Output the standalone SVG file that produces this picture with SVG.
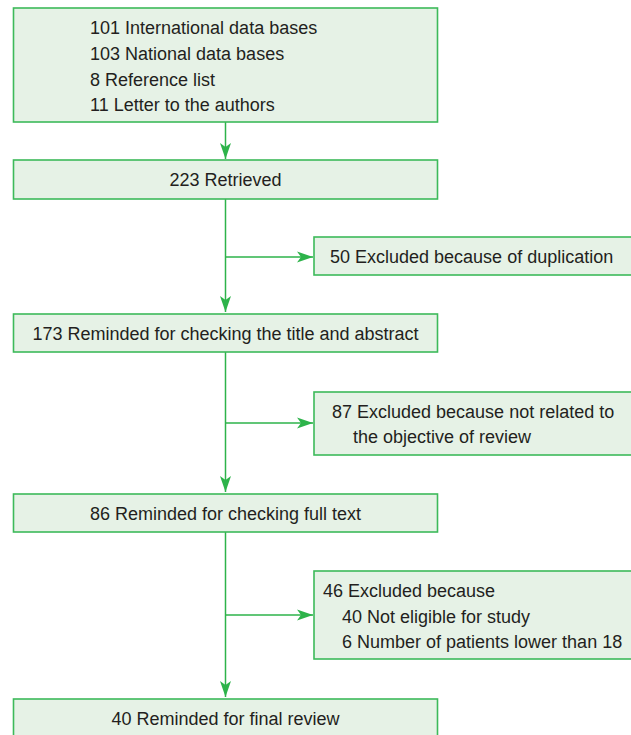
<svg xmlns="http://www.w3.org/2000/svg" width="631" height="735" viewBox="0 0 631 735">
<style>
.box{fill:#e6f2e6;stroke:#3dba5a;stroke-width:1.6}
.lbl{font-family:"Liberation Sans",Arial,sans-serif;font-size:18px;fill:#231f20}
.c{text-anchor:middle}
.edge{fill:none;stroke:#2db34a;stroke-width:1.5}
</style>
<defs>
<marker id="arr" markerUnits="userSpaceOnUse" viewBox="0 0 16 12" refX="16" refY="6" markerWidth="16" markerHeight="12" orient="auto">
<path d="M0,0.5 L16,6 L0,11.5 L4,6 Z" fill="#2db34a"/>
</marker>
</defs>
<rect width="631" height="735" fill="#ffffff"/>
<g id="connectors">
<path class="edge" d="M225.5,122 V159" marker-end="url(#arr)"/>
<path class="edge" d="M225.5,199 V312" marker-end="url(#arr)"/>
<path class="edge" d="M225.5,257 H313" marker-end="url(#arr)"/>
<path class="edge" d="M225.5,352 V492" marker-end="url(#arr)"/>
<path class="edge" d="M225.5,423 H313" marker-end="url(#arr)"/>
<path class="edge" d="M225.5,532 V697" marker-end="url(#arr)"/>
<path class="edge" d="M225.5,615 H313" marker-end="url(#arr)"/>
</g>
<g id="sources">
<rect class="box" x="13.5" y="8" width="424" height="114"/>
<text class="lbl" x="90" y="34">101 International data bases</text>
<text class="lbl" x="90" y="60">103 National data bases</text>
<text class="lbl" x="90" y="86">8 Reference list</text>
<text class="lbl" x="90" y="111">11 Letter to the authors</text>
</g>
<g id="retrieved">
<rect class="box" x="13.5" y="160" width="424" height="39"/>
<text class="lbl c" x="225.5" y="186">223 Retrieved</text>
</g>
<g id="excluded-duplication">
<rect class="box" x="314" y="237" width="330" height="38"/>
<text class="lbl" x="330" y="263">50 Excluded because of duplication</text>
</g>
<g id="title-abstract">
<rect class="box" x="13.5" y="314" width="424" height="38"/>
<text class="lbl c" x="225.5" y="340">173 Reminded for checking the title and abstract</text>
</g>
<g id="excluded-objective">
<rect class="box" x="314" y="392" width="330" height="63"/>
<text class="lbl" x="332" y="418">87 Excluded because not related to</text>
<text class="lbl" x="353" y="443">the objective of review</text>
</g>
<g id="full-text">
<rect class="box" x="13.5" y="494" width="424" height="38"/>
<text class="lbl c" x="225.5" y="520">86 Reminded for checking full text</text>
</g>
<g id="excluded-eligibility">
<rect class="box" x="314" y="571" width="330" height="88"/>
<text class="lbl" x="323" y="597">46 Excluded because</text>
<text class="lbl" x="342" y="623">40 Not eligible for study</text>
<text class="lbl" x="342" y="648">6 Number of patients lower than 18</text>
</g>
<g id="final-review">
<rect class="box" x="13.5" y="699" width="424" height="40"/>
<text class="lbl c" x="225.5" y="725">40 Reminded for final review</text>
</g>
</svg>
